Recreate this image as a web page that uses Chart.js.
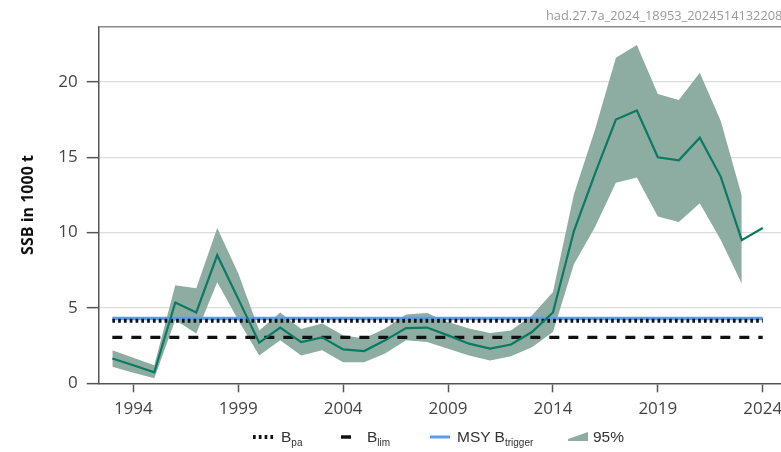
<!DOCTYPE html>
<html>
<head>
<meta charset="utf-8">
<script src="https://cdn.jsdelivr.net/npm/chart.js@4.4.1/dist/chart.umd.min.js"></script>
<style>
    body { margin: 0; background: #fff; overflow: hidden; font-family: 'Open Sans', sans-serif; }
    #wrap { position: relative; width: 781px; height: 452px; overflow: hidden; }
    #stamp { position: absolute; left: 546px; top: 6px; font-size: 12.8px; color: #9a9a9a; white-space: nowrap; }
    #legend { position: absolute; left: 0; top: 427px; width: 781px; height: 20px;
              font-family: 'Liberation Sans', Arial, sans-serif; font-size: 15.5px; color: #333; }
    #legend .ico { position: absolute; top: 0; }
    #legend .txt { position: absolute; top: 1px; white-space: nowrap; }
    #legend sub { font-size: 10px; vertical-align: -4px; }
</style>
</head>
<body>
<div id="wrap">
    <canvas id="ssbChart" width="781" height="452"></canvas>
    <div id="stamp">had.27.7a_2024_18953_2024514132208</div>
    <div id="legend">
        <svg class="ico" style="left:253px" width="22" height="20"><line x1="0" y1="10" x2="22" y2="10" stroke="#111" stroke-width="4" stroke-dasharray="2.7 3.1"/></svg>
        <span class="txt" style="left:281px">B<sub>pa</sub></span>
        <svg class="ico" style="left:341px" width="10" height="20"><line x1="0" y1="10" x2="10" y2="10" stroke="#111" stroke-width="3.5"/></svg>
        <span class="txt" style="left:367px">B<sub>lim</sub></span>
        <svg class="ico" style="left:430px" width="20" height="20"><line x1="0" y1="10" x2="20" y2="10" stroke="#5b9cf2" stroke-width="3"/></svg>
        <span class="txt" style="left:457px">MSY B<sub>trigger</sub></span>
        <svg class="ico" style="left:568px" width="20" height="20"><polygon points="0,14 0,12 20,5 20,14" fill="#8dada2"/></svg>
        <span class="txt" style="left:593px">95%</span>
    </div>
</div>
<script>
// SSB (1000 t)
const years = [1993, 1994, 1995, 1996, 1997, 1998, 1999, 2000, 2001, 2002, 2003, 2004, 2005, 2006, 2007, 2008,
               2009, 2010, 2011, 2012, 2013, 2014, 2015, 2016, 2017, 2018, 2019, 2020, 2021, 2022, 2023, 2024]
const ssb   = [1.65, 1.2, 0.73, 5.36, 4.7, 8.5, 5.6, 2.7, 3.7, 2.73, 3.05, 2.25, 2.14, 2.85, 3.66, 3.7,
               3.18, 2.63, 2.3, 2.57, 3.4, 4.7, 10.1, 13.9, 17.5, 18.1, 15.0, 14.8, 16.3, 13.7, 9.5, 10.3]
const upper = [2.2, 1.7, 1.2, 6.5, 6.3, 10.3, 7.3, 3.5, 4.7, 3.6, 3.97, 3.18, 2.98, 3.64, 4.57, 4.66,
               4.06, 3.64, 3.33, 3.5, 4.5, 6.05, 12.55, 16.8, 21.6, 22.45, 19.2, 18.8, 20.6, 17.4, 12.45, null]
const lower = [1.1, 0.7, 0.33, 4.2, 3.3, 6.7, 4.2, 1.85, 2.85, 1.85, 2.2, 1.4, 1.4, 1.97, 2.85, 2.74,
               2.3, 1.85, 1.52, 1.79, 2.4, 3.4, 7.9, 10.35, 13.3, 13.66, 11.06, 10.7, 11.94, 9.5, 6.6, null]

// reference points
const refYears   = [1993, 2024]
const bpa        = [4.15, 4.15]
const blim       = [3.05, 3.05]
const btrigger   = [4.3, 4.3]

const xTicks = [1994, 1999, 2004, 2009, 2014, 2019, 2024]
const yTicks = [0, 5, 10, 15, 20]

const pts = (xs, ys) => xs.map((x, i) => ({ x, y: ys[i] }))

const BAND = '#8dada2'
const TEAL = '#0b7a60'
const AXIS = '#555'

Chart.defaults.font.family = "'Open Sans', sans-serif"

// grey frame line along the top of the plot
const topBorder = {
    id: 'topBorder',
    afterDraw(chart) {
        const { ctx, chartArea: a } = chart
        ctx.save()
        ctx.strokeStyle = '#8a8a8a'
        ctx.lineWidth = 1.5
        ctx.beginPath()
        ctx.moveTo(a.left, a.top)
        ctx.lineTo(a.right, a.top)
        ctx.stroke()
        ctx.restore()
    }
}

const noPad = s => { s.paddingLeft = 0; s.paddingRight = 0; s.paddingTop = 0; s.paddingBottom = 0 }

new Chart(document.getElementById('ssbChart'), {
    type: 'line',
    data: {
        datasets: [
            { data: pts(years, lower), borderWidth: 0, pointRadius: 0, fill: false, order: 5 },
            { data: pts(years, upper), borderWidth: 0, pointRadius: 0, fill: { target: 0 },
              backgroundColor: BAND, order: 4 },
            { data: pts(refYears, btrigger), borderColor: '#5b9cf2', borderWidth: 3.5,
              pointRadius: 0, order: 3 },
            { data: pts(refYears, blim), borderColor: '#111', borderWidth: 3.2, borderDash: [10, 9],
              borderCapStyle: 'butt', pointRadius: 0, order: 2 },
            { data: pts(refYears, bpa), borderColor: '#111', borderWidth: 4, borderDash: [2.7, 3.1],
              borderCapStyle: 'butt', pointRadius: 0, order: 1 },
            { data: pts(years, ssb), borderColor: TEAL, borderWidth: 2.2, pointRadius: 0,
              tension: 0, order: 0 },
        ]
    },
    options: {
        responsive: false,
        animation: false,
        layout: { padding: { top: 26.7, right: 0, bottom: 28.7, left: 0 } },
        plugins: {
            legend: { display: false },
            tooltip: { enabled: false },
        },
        scales: {
            x: {
                type: 'linear',
                min: 1992.35,
                max: 2024.87,
                afterBuildTicks: s => { s.ticks = xTicks.map(v => ({ value: v })) },
                afterFit: s => { s.height = 40; noPad(s) },
                grid: { drawOnChartArea: false, tickLength: 9, tickColor: AXIS, tickWidth: 1.5 },
                border: { color: AXIS, width: 1.5 },
                ticks: {
                    color: '#444', font: { size: 17 }, padding: 7,
                    maxRotation: 0, autoSkip: false, callback: v => String(v),
                },
            },
            y: {
                min: 0,
                max: 23.66,
                afterBuildTicks: s => { s.ticks = yTicks.map(v => ({ value: v })) },
                afterFit: s => { s.width = 98.7; noPad(s) },
                grid: {
                    color: c => (c.tick && c.tick.value === 0) ? 'rgba(0,0,0,0)' : '#dcdcdc',
                    lineWidth: 1.3, tickLength: 12, tickColor: AXIS, tickWidth: 1.5,
                },
                border: { color: AXIS, width: 1.5 },
                ticks: { color: '#444', font: { size: 17 }, padding: 9 },
                title: {
                    display: true, text: 'SSB in 1000 t', color: '#111',
                    font: { size: 16, weight: 'bold' }, padding: { top: 18.4, bottom: 0 },
                },
            },
        },
    },
    plugins: [topBorder],
})
</script>
</body>
</html>
